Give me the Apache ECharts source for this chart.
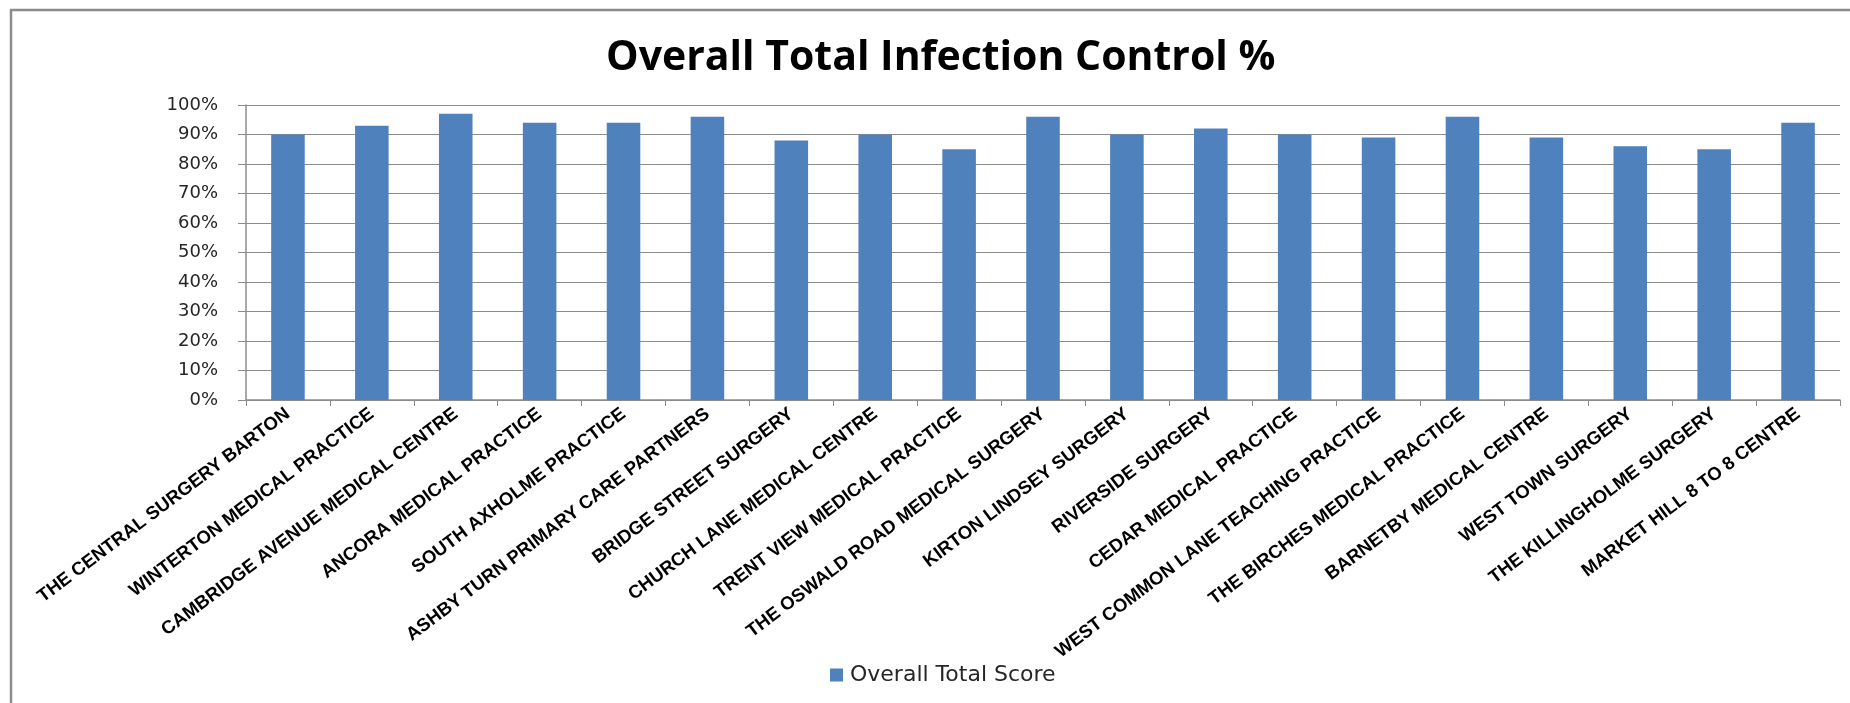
<!DOCTYPE html>
<html>
<head>
<meta charset="utf-8">
<script src="https://cdn.jsdelivr.net/npm/echarts@6/dist/echarts.min.js"></script>
<style>
html,body{margin:0;padding:0;background:#fff;}
#chart{width:1850px;height:703px;}
</style>
</head>
<body>
<div id="chart"></div>
<script>
const categories = [
  "THE CENTRAL SURGERY BARTON",
  "WINTERTON MEDICAL PRACTICE",
  "CAMBRIDGE AVENUE MEDICAL CENTRE",
  "ANCORA MEDICAL PRACTICE",
  "SOUTH AXHOLME PRACTICE",
  "ASHBY TURN PRIMARY CARE PARTNERS",
  "BRIDGE STREET SURGERY",
  "CHURCH LANE MEDICAL CENTRE",
  "TRENT VIEW MEDICAL PRACTICE",
  "THE OSWALD ROAD MEDICAL SURGERY",
  "KIRTON LINDSEY SURGERY",
  "RIVERSIDE SURGERY",
  "CEDAR MEDICAL PRACTICE",
  "WEST COMMON LANE TEACHING PRACTICE",
  "THE BIRCHES MEDICAL PRACTICE",
  "BARNETBY MEDICAL CENTRE",
  "WEST TOWN SURGERY",
  "THE KILLINGHOLME SURGERY",
  "MARKET HILL 8 TO 8 CENTRE"
];
const overallTotalScore = [90, 93, 97, 94, 94, 96, 88, 90, 85, 96, 90, 92, 90, 89, 96, 89, 86, 85, 94];
const seriesName = "Overall Total Score";
const titleText = "Overall Total Infection Control %";

const chart = echarts.init(document.getElementById('chart'), null, {renderer: 'canvas'});
chart.setOption({
  animation: false,
  backgroundColor: '#ffffff',
  title: {
    text: titleText,
    left: 606,
    top: 38,
    padding: 0,
    textStyle: {fontFamily: 'Open Sans', fontWeight: 'bold', fontSize: 41, color: '#000'}
  },
  graphic: [{
    type: 'rect',
    shape: {x: 11, y: 10, width: 1900, height: 800},
    style: {fill: 'none', stroke: '#8c8c8c', lineWidth: 2.5},
    silent: true
  }],
  legend: {
    data: [seriesName],
    left: 825,
    top: 659,
    itemWidth: 13,
    itemHeight: 13,
    itemGap: 10,
    textStyle: {fontFamily: 'DejaVu Sans', fontSize: 22, color: '#262626', padding: [0, 0, 0, 2]},
    icon: 'rect'
  },
  grid: {left: 246, right: 10, top: 105, bottom: 303, containLabel: false},
  xAxis: {
    type: 'category',
    data: categories,
    boundaryGap: true,
    axisLine: {show: true, lineStyle: {color: '#8c8c8c', width: 1.5}},
    axisTick: {show: true, alignWithLabel: false, length: 6, lineStyle: {color: '#8c8c8c'}},
    axisLabel: {
      interval: 0,
      rotate: 37,
      margin: 12,
      fontFamily: 'Liberation Sans',
      fontWeight: 'bold',
      fontSize: 18.5,
      color: '#000'
    }
  },
  yAxis: {
    type: 'value',
    min: 0,
    max: 100,
    interval: 10,
    axisLine: {show: true, lineStyle: {color: '#8c8c8c', width: 1.5}},
    axisTick: {show: true, length: 8, lineStyle: {color: '#8c8c8c'}},
    splitLine: {show: true, lineStyle: {color: '#8c8c8c', width: 1.2}},
    axisLabel: {
      formatter: '{value}%',
      margin: 28,
      fontFamily: 'DejaVu Sans',
      fontSize: 18,
      color: '#262626'
    }
  },
  series: [{
    name: seriesName,
    type: 'bar',
    data: overallTotalScore,
    barWidth: '40%',
    itemStyle: {color: '#4F81BD'}
  }]
});
</script>
</body>
</html>
